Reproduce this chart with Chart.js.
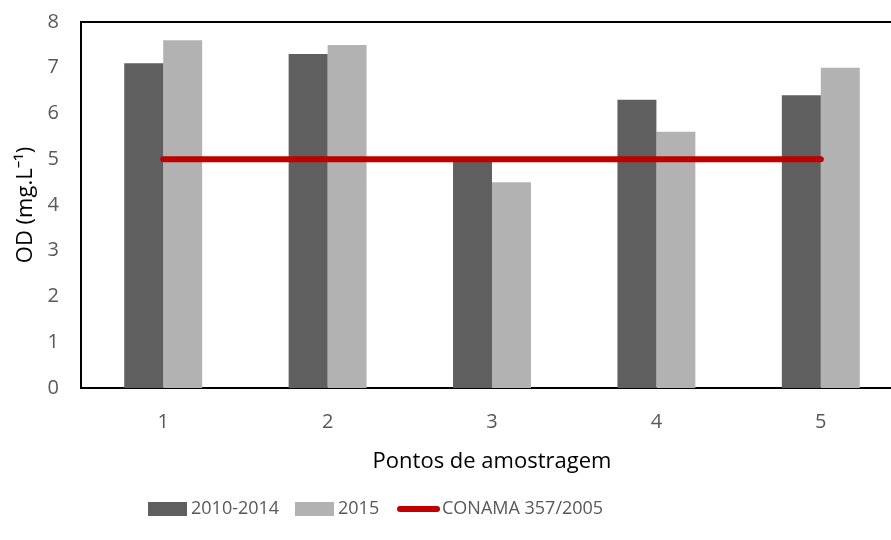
<!DOCTYPE html>
<html>
<head>
<meta charset="utf-8">
<script src="https://cdn.jsdelivr.net/npm/chart.js@4.4.1/dist/chart.umd.min.js"></script>
<style>
    html, body { margin: 0; padding: 0; background: #fff; }
    #wrap { width: 891px; height: 540px; overflow: hidden; }
</style>
</head>
<body>
<div id="wrap"><canvas id="chart" width="912" height="540"></canvas></div>
<script>
/* data */
const pontos = ["1", "2", "3", "4", "5"];
const od2010a2014 = [7.1, 7.3, 5.0, 6.3, 6.4];
const od2015 = [7.6, 7.5, 4.5, 5.6, 7.0];
const conama = [5, 5, 5, 5, 5];
const yTicks = [0, 1, 2, 3, 4, 5, 6, 7, 8];

const FONT = "'Open Sans', 'Noto Sans', sans-serif";
const GREY = "#595959";

// frame round the plot area
const frame = {
    id: "frame",
    beforeDatasetsDraw(chart) {
        const a = chart.chartArea;
        const c = chart.ctx;
        c.save();
        c.strokeStyle = "#000";
        c.lineWidth = 2;
        c.strokeRect(a.left, a.top, a.right - a.left, a.bottom - a.top);
        c.restore();
    }
};

// legend placed like the original one
const legendX = [148, 295, 397];
const legendaManual = {
    id: "legendaManual",
    afterDraw(chart) {
        const c = chart.ctx;
        const y = 509;
        c.save();
        c.font = "18px " + FONT;
        c.textBaseline = "middle";
        chart.data.datasets.forEach(function (ds, i) {
            let x = legendX[i];
            if (ds.type === "line") {
                c.strokeStyle = ds.borderColor;
                c.lineWidth = 6;
                c.lineCap = "round";
                c.beginPath();
                c.moveTo(x + 3, y);
                c.lineTo(x + 40, y);
                c.stroke();
                x += 45;
            } else {
                c.fillStyle = ds.backgroundColor;
                c.fillRect(x, y - 7, 39, 14);
                x += 43;
            }
            c.fillStyle = GREY;
            c.fillText(ds.label, x, y);
        });
        c.restore();
    }
};

let ctx = document.getElementById("chart").getContext("2d");
let chart = new Chart(ctx, {
    type: "bar",
    data: {
        labels: pontos,
        datasets: [
            {
                label: "2010-2014",
                data: od2010a2014,
                backgroundColor: "#5F5F5F",
                order: 2
            },
            {
                label: "2015",
                data: od2015,
                backgroundColor: "#B2B2B2",
                order: 2
            },
            {
                type: "line",
                label: "CONAMA 357/2005",
                data: conama,
                borderColor: "#C00000",
                borderWidth: 6,
                borderCapStyle: "round",
                pointRadius: 0,
                order: 0
            }
        ]
    },
    options: {
        responsive: false,
        animation: false,
        layout: { padding: { top: 22, right: 9, left: 0, bottom: 0 } },
        datasets: {
            bar: { categoryPercentage: 0.474, barPercentage: 1.0 }
        },
        plugins: {
            legend: { display: false },
            tooltip: { enabled: false }
        },
        scales: {
            x: {
                grid: { display: false, drawTicks: false },
                border: { display: false },
                ticks: {
                    color: GREY,
                    font: { family: FONT, size: 20 },
                    padding: 22
                },
                title: {
                    display: true,
                    text: "Pontos de amostragem",
                    color: "#000",
                    font: { family: FONT, size: 22 },
                    padding: { top: 0, bottom: 65 }
                },
                afterFit(scale) { scale.height = 152; }
            },
            y: {
                min: 0,
                max: 8,
                grid: { display: false, drawTicks: false },
                border: { display: false },
                afterBuildTicks(scale) {
                    scale.ticks = yTicks.map(v => ({ value: v }));
                },
                ticks: {
                    color: GREY,
                    font: { family: FONT, size: 20 },
                    padding: 22
                },
                title: {
                    display: true,
                    text: "OD (mg.L⁻¹)",
                    color: "#000",
                    font: { family: FONT, size: 22 },
                    padding: { top: 13, bottom: 0 }
                },
                afterFit(scale) {
                    scale.width = 81;
                    scale.paddingTop = 0;
                    scale.paddingBottom = 0;
                }
            }
        }
    },
    plugins: [frame, legendaManual]
});
</script>
</body>
</html>
